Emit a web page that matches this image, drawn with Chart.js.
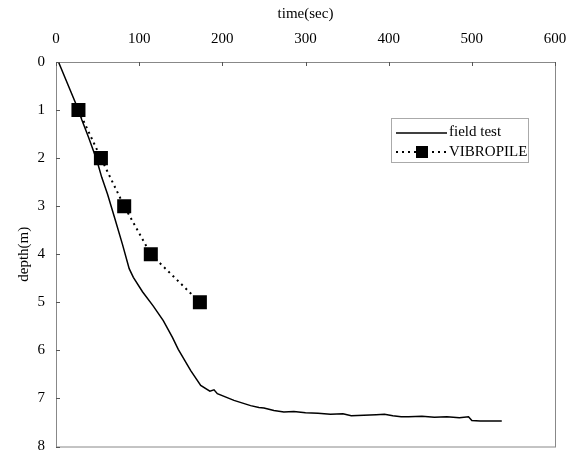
<!DOCTYPE html>
<html>
<head>
<meta charset="utf-8">
<script src="https://cdn.jsdelivr.net/npm/chart.js@4"></script>
<style>
  html, body { margin: 0; padding: 0; background: #fff; overflow: hidden; }
  #wrap { width: 578px; height: 454px; position: relative; overflow: hidden; }
</style>
</head>
<body>
<div id="wrap"><canvas id="chart" width="578" height="457"></canvas></div>
<script>
const fieldTime  = [0, 3, 27, 31, 39, 49, 55, 62, 71, 80, 88, 93, 104, 117, 129, 140, 147, 162, 174, 185, 190, 194, 214, 234, 244, 250, 262, 274, 286, 300, 315, 330, 345, 355, 370, 385, 395, 405, 415, 424, 440, 455, 470, 485, 496, 500, 510, 536];
const fieldDepth = [0, 0, 1.0, 1.2, 1.56, 2.04, 2.4, 2.75, 3.27, 3.8, 4.3, 4.48, 4.78, 5.08, 5.38, 5.73, 5.98, 6.42, 6.73, 6.85, 6.82, 6.9, 7.04, 7.15, 7.19, 7.2, 7.25, 7.28, 7.27, 7.3, 7.31, 7.33, 7.32, 7.36, 7.35, 7.34, 7.33, 7.36, 7.38, 7.38, 7.37, 7.39, 7.38, 7.4, 7.38, 7.46, 7.47, 7.47];

const vibroTime  = [27, 54, 82, 114, 173];
const vibroDepth = [1, 2, 3, 4, 5];

const timeTicks  = [0, 100, 200, 300, 400, 500, 600];
const depthTicks = [0, 1, 2, 3, 4, 5, 6, 7, 8];

const seriesNames = ["field test", "VIBROPILE"];

const FONT = "'Liberation Serif', 'DejaVu Serif', serif";

const toPoints = (xs, ys) => xs.map((x, i) => ({ x, y: ys[i] }));

// frame around the plot area, inward ticks, legend box inside it
const framePlugin = {
  id: "frame",
  afterDraw(chart) {
    const { ctx, chartArea: a, scales } = chart;
    ctx.save();
    ctx.strokeStyle = "#888";
    ctx.lineWidth = 1;
    ctx.strokeRect(a.left + 0.5, a.top + 0.5, a.right - a.left, a.bottom - a.top);

    ctx.strokeStyle = "#555";
    ctx.beginPath();
    timeTicks.forEach(v => {
      const px = Math.round(scales.x.getPixelForValue(v)) + 0.5;
      ctx.moveTo(px, a.top); ctx.lineTo(px, a.top + 4);
    });
    depthTicks.forEach(v => {
      const py = Math.round(scales.y.getPixelForValue(v)) + 0.5;
      ctx.moveTo(a.left, py); ctx.lineTo(a.left + 4, py);
    });
    ctx.stroke();

    // legend
    const lx = 391, ly = 118, lw = 137, lh = 44;
    ctx.strokeStyle = "#aaa";
    ctx.strokeRect(lx + 0.5, ly + 0.5, lw, lh);
    ctx.font = "15px " + FONT;
    ctx.fillStyle = "#000";
    ctx.textBaseline = "middle";

    ctx.strokeStyle = "#000";
    ctx.lineWidth = 1.5;
    ctx.beginPath();
    ctx.moveTo(396, 133); ctx.lineTo(447, 133);
    ctx.stroke();
    ctx.fillText(seriesNames[0], 449, 132);

    ctx.setLineDash([2, 4]);
    ctx.lineWidth = 2;
    ctx.beginPath();
    ctx.moveTo(396, 152); ctx.lineTo(447, 152);
    ctx.stroke();
    ctx.setLineDash([]);
    ctx.fillRect(416, 146, 12, 12);
    ctx.fillText(seriesNames[1], 449, 152);
    ctx.restore();
  }
};

new Chart(document.getElementById("chart").getContext("2d"), {
  type: "line",
  data: {
    datasets: [
      {
        label: seriesNames[0],
        data: toPoints(fieldTime, fieldDepth),
        borderColor: "#000",
        borderWidth: 1.5,
        pointRadius: 0,
        tension: 0,
        fill: false
      },
      {
        label: seriesNames[1],
        data: toPoints(vibroTime, vibroDepth),
        borderColor: "#000",
        borderWidth: 2,
        borderDash: [2, 4],
        pointStyle: "rect",
        pointRadius: 8.5,
        pointBackgroundColor: "#000",
        pointBorderColor: "#000",
        tension: 0,
        fill: false
      }
    ]
  },
  options: {
    responsive: false,
    animation: false,
    layout: { padding: { left: 0, right: 23, top: 0, bottom: 1.5 } },
    plugins: { legend: { display: false }, tooltip: { enabled: false } },
    scales: {
      x: {
        type: "linear",
        position: "top",
        min: 0, max: 600,
        afterBuildTicks: s => { s.ticks = timeTicks.map(v => ({ value: v })); },
        afterFit: s => { s.height = 62; s.paddingLeft = 0; s.paddingRight = 0; },
        grid: { display: false, drawTicks: false },
        border: { display: false },
        ticks: { padding: 14, color: "#000", font: { family: FONT, size: 15 } },
        title: { display: true, text: "time(sec)", color: "#000", padding: { top: 5, bottom: 0 }, font: { family: FONT, size: 15 } }
      },
      y: {
        type: "linear",
        reverse: true,
        min: 0, max: 8,
        afterBuildTicks: s => { s.ticks = depthTicks.map(v => ({ value: v })); },
        afterFit: s => { s.width = 56; s.paddingTop = 0; s.paddingBottom = 0; },
        grid: { display: false, drawTicks: false },
        border: { display: false },
        ticks: { padding: 11, color: "#000", font: { family: FONT, size: 15 } },
        title: { display: true, text: "depth(m)", color: "#000", padding: { top: 15, bottom: 0 }, font: { family: FONT, size: 15 } }
      }
    }
  },
  plugins: [framePlugin]
});
</script>
</body>
</html>
